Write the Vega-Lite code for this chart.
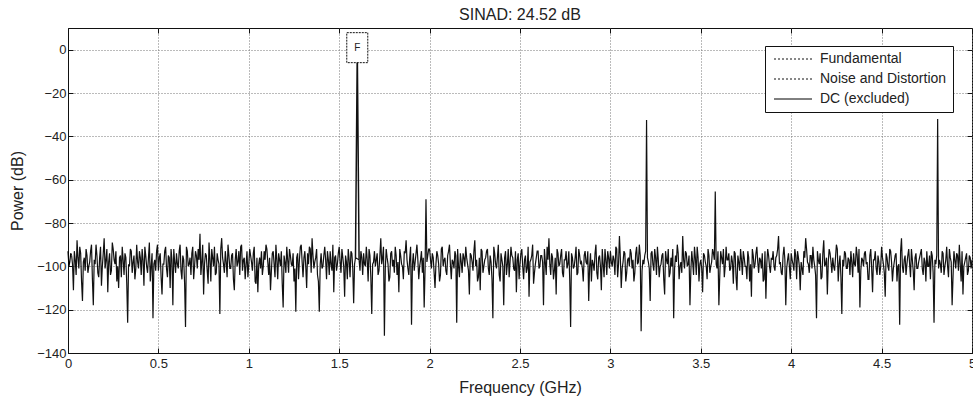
{
  "$schema": "https://vega.github.io/schema/vega-lite/v6.json",
  "width": 904,
  "height": 325,
  "autosize": {"type": "none"},
  "padding": {"left": 68, "top": 28, "right": 1, "bottom": 57},
  "background": "white",
  "title": {"text": "SINAD: 24.52 dB", "fontSize": 16, "fontWeight": "normal", "font": "Liberation Sans", "color": "#222", "offset": 5},
  "config": {
    "view": {"stroke": "#111", "strokeWidth": 1},
    "axis": {"labelFont": "Liberation Sans", "titleFont": "Liberation Sans", "labelFontSize": 13, "titleFontSize": 16, "titleFontWeight": "normal", "labelColor": "#222", "titleColor": "#222", "domainColor": "#111", "tickColor": "#111"}
  },
  "datasets": {
    "noise": [
      {"f":0.02,"p":-95},{"f":0.03,"p":-111},{"f":0.04,"p":-97},{"f":0.05,"p":-88},{"f":0.06,"p":-101},{"f":0.07,"p":-94},{"f":0.08,"p":-116},{"f":0.09,"p":-96},
      {"f":0.10,"p":-92},{"f":0.11,"p":-103},{"f":0.12,"p":-98},{"f":0.13,"p":-90},{"f":0.14,"p":-118},{"f":0.15,"p":-99},{"f":0.16,"p":-95},{"f":0.17,"p":-105},{"f":0.18,"p":-91},{"f":0.19,"p":-100},
      {"f":0.20,"p":-87},{"f":0.21,"p":-97},{"f":0.22,"p":-112},{"f":0.23,"p":-94},{"f":0.24,"p":-102},{"f":0.25,"p":-92},{"f":0.26,"p":-99},{"f":0.27,"p":-107},{"f":0.28,"p":-110},{"f":0.29,"p":-95},
      {"f":0.30,"p":-91},{"f":0.31,"p":-104},{"f":0.32,"p":-96},{"f":0.33,"p":-126},{"f":0.34,"p":-100},{"f":0.35,"p":-93},{"f":0.36,"p":-98},{"f":0.37,"p":-106},{"f":0.38,"p":-90},{"f":0.39,"p":-101},
      {"f":0.40,"p":-96},{"f":0.41,"p":-92},{"f":0.42,"p":-109},{"f":0.43,"p":-95},{"f":0.44,"p":-103},{"f":0.45,"p":-89},{"f":0.46,"p":-100},{"f":0.47,"p":-124},{"f":0.48,"p":-97},{"f":0.49,"p":-93},
      {"f":0.50,"p":-102},{"f":0.51,"p":-94},{"f":0.52,"p":-113},{"f":0.53,"p":-99},{"f":0.54,"p":-91},{"f":0.55,"p":-105},{"f":0.56,"p":-96},{"f":0.57,"p":-92},{"f":0.58,"p":-118},{"f":0.59,"p":-98},
      {"f":0.60,"p":-94},{"f":0.61,"p":-101},{"f":0.62,"p":-90},{"f":0.63,"p":-106},{"f":0.64,"p":-97},{"f":0.65,"p":-128},{"f":0.66,"p":-93},{"f":0.67,"p":-99},{"f":0.68,"p":-104},{"f":0.69,"p":-91},
      {"f":0.70,"p":-100},{"f":0.71,"p":-95},{"f":0.72,"p":-92},{"f":0.73,"p":-85},{"f":0.74,"p":-98},{"f":0.75,"p":-113},{"f":0.76,"p":-94},{"f":0.77,"p":-102},{"f":0.78,"p":-89},{"f":0.79,"p":-107},
      {"f":0.80,"p":-96},{"f":0.81,"p":-91},{"f":0.82,"p":-103},{"f":0.83,"p":-97},{"f":0.84,"p":-122},{"f":0.85,"p":-87},{"f":0.86,"p":-99},{"f":0.87,"p":-93},{"f":0.88,"p":-105},{"f":0.89,"p":-95},
      {"f":0.90,"p":-101},{"f":0.91,"p":-94},{"f":0.92,"p":-111},{"f":0.93,"p":-92},{"f":0.94,"p":-98},{"f":0.95,"p":-104},{"f":0.96,"p":-90},{"f":0.97,"p":-97},{"f":0.98,"p":-106},{"f":0.99,"p":-93},
      {"f":1.00,"p":-99},{"f":1.01,"p":-95},{"f":1.02,"p":-102},{"f":1.03,"p":-91},{"f":1.04,"p":-108},{"f":1.05,"p":-112},{"f":1.06,"p":-96},{"f":1.07,"p":-93},{"f":1.08,"p":-100},{"f":1.09,"p":-97},
      {"f":1.10,"p":-92},{"f":1.11,"p":-104},{"f":1.12,"p":-111},{"f":1.13,"p":-94},{"f":1.14,"p":-99},{"f":1.15,"p":-90},{"f":1.16,"p":-106},{"f":1.17,"p":-97},{"f":1.18,"p":-93},{"f":1.19,"p":-119},
      {"f":1.20,"p":-98},{"f":1.21,"p":-91},{"f":1.22,"p":-103},{"f":1.23,"p":-95},{"f":1.24,"p":-100},{"f":1.25,"p":-107},{"f":1.26,"p":-121},{"f":1.27,"p":-94},{"f":1.28,"p":-97},{"f":1.29,"p":-90},
      {"f":1.30,"p":-105},{"f":1.31,"p":-93},{"f":1.32,"p":-110},{"f":1.33,"p":-99},{"f":1.34,"p":-92},{"f":1.35,"p":-87},{"f":1.36,"p":-101},{"f":1.37,"p":-96},{"f":1.38,"p":-104},{"f":1.39,"p":-121},
      {"f":1.40,"p":-94},{"f":1.41,"p":-100},{"f":1.42,"p":-91},{"f":1.43,"p":-106},{"f":1.44,"p":-97},{"f":1.45,"p":-93},{"f":1.46,"p":-102},{"f":1.47,"p":-112},{"f":1.48,"p":-95},{"f":1.49,"p":-99},
      {"f":1.50,"p":-91},{"f":1.51,"p":-103},{"f":1.52,"p":-96},{"f":1.53,"p":-114},{"f":1.54,"p":-98},{"f":1.55,"p":-92},{"f":1.56,"p":-105},{"f":1.57,"p":-94},{"f":1.58,"p":-117},{"f":1.59,"p":-96},
      {"f":1.61,"p":-97},{"f":1.62,"p":-93},{"f":1.63,"p":-104},{"f":1.64,"p":-99},{"f":1.65,"p":-91},{"f":1.66,"p":-107},{"f":1.67,"p":-95},{"f":1.68,"p":-122},{"f":1.69,"p":-98},
      {"f":1.70,"p":-100},{"f":1.71,"p":-94},{"f":1.72,"p":-102},{"f":1.73,"p":-87},{"f":1.74,"p":-96},{"f":1.75,"p":-132},{"f":1.76,"p":-92},{"f":1.77,"p":-99},{"f":1.78,"p":-105},{"f":1.79,"p":-93},
      {"f":1.80,"p":-97},{"f":1.81,"p":-91},{"f":1.82,"p":-104},{"f":1.83,"p":-112},{"f":1.84,"p":-95},{"f":1.85,"p":-100},{"f":1.86,"p":-93},{"f":1.87,"p":-88},{"f":1.88,"p":-101},{"f":1.89,"p":-96},
      {"f":1.90,"p":-127},{"f":1.91,"p":-94},{"f":1.92,"p":-98},{"f":1.93,"p":-90},{"f":1.94,"p":-106},{"f":1.95,"p":-97},{"f":1.96,"p":-103},{"f":1.97,"p":-119},{"f":1.98,"p":-69},{"f":1.99,"p":-95},
      {"f":2.00,"p":-92},{"f":2.01,"p":-101},{"f":2.02,"p":-96},{"f":2.03,"p":-110},{"f":2.04,"p":-93},{"f":2.05,"p":-99},{"f":2.06,"p":-104},{"f":2.07,"p":-91},{"f":2.08,"p":-97},{"f":2.09,"p":-102},
      {"f":2.10,"p":-95},{"f":2.11,"p":-90},{"f":2.12,"p":-106},{"f":2.13,"p":-98},{"f":2.14,"p":-93},{"f":2.15,"p":-126},{"f":2.16,"p":-100},{"f":2.17,"p":-94},{"f":2.18,"p":-103},{"f":2.19,"p":-96},
      {"f":2.20,"p":-91},{"f":2.21,"p":-99},{"f":2.22,"p":-113},{"f":2.23,"p":-95},{"f":2.24,"p":-102},{"f":2.25,"p":-88},{"f":2.26,"p":-97},{"f":2.27,"p":-105},{"f":2.28,"p":-111},{"f":2.29,"p":-93},
      {"f":2.30,"p":-100},{"f":2.31,"p":-96},{"f":2.32,"p":-92},{"f":2.33,"p":-104},{"f":2.34,"p":-98},{"f":2.35,"p":-124},{"f":2.36,"p":-94},{"f":2.37,"p":-101},{"f":2.38,"p":-90},{"f":2.39,"p":-107},
      {"f":2.40,"p":-97},{"f":2.41,"p":-118},{"f":2.42,"p":-93},{"f":2.43,"p":-99},{"f":2.44,"p":-105},{"f":2.45,"p":-91},{"f":2.46,"p":-96},{"f":2.47,"p":-102},{"f":2.48,"p":-112},{"f":2.49,"p":-94},
      {"f":2.50,"p":-99},{"f":2.51,"p":-92},{"f":2.52,"p":-106},{"f":2.53,"p":-95},{"f":2.54,"p":-101},{"f":2.55,"p":-114},{"f":2.56,"p":-97},{"f":2.57,"p":-90},{"f":2.58,"p":-103},{"f":2.59,"p":-96},
      {"f":2.60,"p":-93},{"f":2.61,"p":-100},{"f":2.62,"p":-95},{"f":2.63,"p":-118},{"f":2.64,"p":-98},{"f":2.65,"p":-91},{"f":2.66,"p":-87},{"f":2.67,"p":-104},{"f":2.68,"p":-96},{"f":2.69,"p":-102},
      {"f":2.70,"p":-113},{"f":2.71,"p":-94},{"f":2.72,"p":-99},{"f":2.73,"p":-92},{"f":2.74,"p":-105},{"f":2.75,"p":-97},{"f":2.76,"p":-101},{"f":2.77,"p":-93},{"f":2.78,"p":-128},{"f":2.79,"p":-96},
      {"f":2.80,"p":-100},{"f":2.81,"p":-91},{"f":2.82,"p":-103},{"f":2.83,"p":-95},{"f":2.84,"p":-98},{"f":2.85,"p":-107},{"f":2.86,"p":-93},{"f":2.87,"p":-99},{"f":2.88,"p":-116},{"f":2.89,"p":-94},
      {"f":2.90,"p":-97},{"f":2.91,"p":-102},{"f":2.92,"p":-90},{"f":2.93,"p":-106},{"f":2.94,"p":-95},{"f":2.95,"p":-111},{"f":2.96,"p":-99},{"f":2.97,"p":-92},{"f":2.98,"p":-104},{"f":2.99,"p":-96},
      {"f":3.00,"p":-93},{"f":3.01,"p":-100},{"f":3.02,"p":-97},{"f":3.03,"p":-91},{"f":3.04,"p":-105},{"f":3.05,"p":-86},{"f":3.06,"p":-110},{"f":3.07,"p":-98},{"f":3.08,"p":-94},{"f":3.09,"p":-103},
      {"f":3.10,"p":-96},{"f":3.11,"p":-92},{"f":3.12,"p":-101},{"f":3.13,"p":-107},{"f":3.14,"p":-94},{"f":3.15,"p":-99},{"f":3.16,"p":-90},{"f":3.17,"p":-130},{"f":3.18,"p":-97},{"f":3.19,"p":-95},
      {"f":3.20,"p":-32.5},{"f":3.21,"p":-98},{"f":3.22,"p":-116},{"f":3.23,"p":-93},{"f":3.24,"p":-102},{"f":3.25,"p":-96},{"f":3.26,"p":-91},{"f":3.27,"p":-105},{"f":3.28,"p":-99},{"f":3.29,"p":-94},
      {"f":3.30,"p":-113},{"f":3.31,"p":-97},{"f":3.32,"p":-92},{"f":3.33,"p":-103},{"f":3.34,"p":-100},{"f":3.35,"p":-124},{"f":3.36,"p":-95},{"f":3.37,"p":-90},{"f":3.38,"p":-106},{"f":3.39,"p":-98},
      {"f":3.40,"p":-86},{"f":3.41,"p":-101},{"f":3.42,"p":-94},{"f":3.43,"p":-99},{"f":3.44,"p":-118},{"f":3.45,"p":-93},{"f":3.46,"p":-104},{"f":3.47,"p":-96},{"f":3.48,"p":-91},{"f":3.49,"p":-107},
      {"f":3.50,"p":-97},{"f":3.51,"p":-112},{"f":3.52,"p":-95},{"f":3.53,"p":-100},{"f":3.54,"p":-92},{"f":3.55,"p":-103},{"f":3.56,"p":-98},{"f":3.57,"p":-94},{"f":3.58,"p":-65.5},{"f":3.59,"p":-101},
      {"f":3.60,"p":-118},{"f":3.61,"p":-93},{"f":3.62,"p":-99},{"f":3.63,"p":-105},{"f":3.64,"p":-91},{"f":3.65,"p":-97},{"f":3.66,"p":-102},{"f":3.67,"p":-95},{"f":3.68,"p":-108},{"f":3.69,"p":-94},
      {"f":3.70,"p":-111},{"f":3.71,"p":-98},{"f":3.72,"p":-92},{"f":3.73,"p":-104},{"f":3.74,"p":-96},{"f":3.75,"p":-100},{"f":3.76,"p":-93},{"f":3.77,"p":-107},{"f":3.78,"p":-114},{"f":3.79,"p":-95},
      {"f":3.80,"p":-99},{"f":3.81,"p":-91},{"f":3.82,"p":-103},{"f":3.83,"p":-97},{"f":3.84,"p":-94},{"f":3.85,"p":-106},{"f":3.86,"p":-115},{"f":3.87,"p":-92},{"f":3.88,"p":-100},{"f":3.89,"p":-96},
      {"f":3.90,"p":-93},{"f":3.91,"p":-102},{"f":3.92,"p":-95},{"f":3.93,"p":-86},{"f":3.94,"p":-98},{"f":3.95,"p":-104},{"f":3.96,"p":-91},{"f":3.97,"p":-118},{"f":3.98,"p":-97},{"f":3.99,"p":-100},
      {"f":4.00,"p":-94},{"f":4.01,"p":-99},{"f":4.02,"p":-92},{"f":4.03,"p":-106},{"f":4.04,"p":-96},{"f":4.05,"p":-111},{"f":4.06,"p":-101},{"f":4.07,"p":-93},{"f":4.08,"p":-87},{"f":4.09,"p":-98},
      {"f":4.10,"p":-103},{"f":4.11,"p":-95},{"f":4.12,"p":-91},{"f":4.13,"p":-100},{"f":4.14,"p":-124},{"f":4.15,"p":-97},{"f":4.16,"p":-94},{"f":4.17,"p":-105},{"f":4.18,"p":-88},{"f":4.19,"p":-99},
      {"f":4.20,"p":-113},{"f":4.21,"p":-92},{"f":4.22,"p":-98},{"f":4.23,"p":-96},{"f":4.24,"p":-102},{"f":4.25,"p":-90},{"f":4.26,"p":-107},{"f":4.27,"p":-95},{"f":4.28,"p":-122},{"f":4.29,"p":-100},
      {"f":4.30,"p":-94},{"f":4.31,"p":-101},{"f":4.32,"p":-97},{"f":4.33,"p":-93},{"f":4.34,"p":-105},{"f":4.35,"p":-99},{"f":4.36,"p":-91},{"f":4.37,"p":-103},{"f":4.38,"p":-119},{"f":4.39,"p":-96},
      {"f":4.40,"p":-100},{"f":4.41,"p":-93},{"f":4.42,"p":-98},{"f":4.43,"p":-106},{"f":4.44,"p":-92},{"f":4.45,"p":-112},{"f":4.46,"p":-97},{"f":4.47,"p":-101},{"f":4.48,"p":-95},{"f":4.49,"p":-104},
      {"f":4.50,"p":-91},{"f":4.51,"p":-99},{"f":4.52,"p":-114},{"f":4.53,"p":-96},{"f":4.54,"p":-102},{"f":4.55,"p":-93},{"f":4.56,"p":-107},{"f":4.57,"p":-98},{"f":4.58,"p":-94},{"f":4.59,"p":-100},
      {"f":4.60,"p":-127},{"f":4.61,"p":-87},{"f":4.62,"p":-103},{"f":4.63,"p":-95},{"f":4.64,"p":-99},{"f":4.65,"p":-92},{"f":4.66,"p":-105},{"f":4.67,"p":-97},{"f":4.68,"p":-111},{"f":4.69,"p":-94},
      {"f":4.70,"p":-101},{"f":4.71,"p":-96},{"f":4.72,"p":-92},{"f":4.73,"p":-104},{"f":4.74,"p":-98},{"f":4.75,"p":-93},{"f":4.76,"p":-100},{"f":4.77,"p":-106},{"f":4.78,"p":-95},{"f":4.79,"p":-126},
      {"f":4.80,"p":-99},{"f":4.81,"p":-32},{"f":4.82,"p":-97},{"f":4.83,"p":-103},{"f":4.84,"p":-94},{"f":4.85,"p":-100},{"f":4.86,"p":-91},{"f":4.87,"p":-105},{"f":4.88,"p":-96},{"f":4.89,"p":-118},
      {"f":4.90,"p":-93},{"f":4.91,"p":-101},{"f":4.92,"p":-95},{"f":4.93,"p":-90},{"f":4.94,"p":-107},{"f":4.95,"p":-113},{"f":4.96,"p":-98},{"f":4.97,"p":-94},{"f":4.98,"p":-102},{"f":4.99,"p":-96},
      {"f":5.00,"p":-97},
      {"f":0.025,"p":-99},{"f":0.035,"p":-93},{"f":0.045,"p":-104},{"f":0.055,"p":-96},{"f":0.065,"p":-91},{"f":0.075,"p":-107},{"f":0.085,"p":-98},{"f":0.095,"p":-102},
      {"f":0.105,"p":-95},{"f":0.115,"p":-100},{"f":0.125,"p":-93},{"f":0.135,"p":-106},{"f":0.145,"p":-97},{"f":0.155,"p":-90},{"f":0.165,"p":-103},{"f":0.175,"p":-96},{"f":0.185,"p":-109},{"f":0.195,"p":-94},
      {"f":0.205,"p":-101},{"f":0.215,"p":-92},{"f":0.225,"p":-98},{"f":0.235,"p":-104},{"f":0.245,"p":-89},{"f":0.255,"p":-97},{"f":0.265,"p":-93},{"f":0.275,"p":-100},{"f":0.285,"p":-96},{"f":0.295,"p":-105},
      {"f":0.305,"p":-97},{"f":0.315,"p":-94},{"f":0.325,"p":-108},{"f":0.335,"p":-99},{"f":0.345,"p":-92},{"f":0.355,"p":-103},{"f":0.365,"p":-95},{"f":0.375,"p":-101},{"f":0.385,"p":-98},{"f":0.395,"p":-93},
      {"f":0.405,"p":-104},{"f":0.415,"p":-97},{"f":0.425,"p":-91},{"f":0.435,"p":-100},{"f":0.445,"p":-96},{"f":0.455,"p":-107},{"f":0.465,"p":-94},{"f":0.475,"p":-99},{"f":0.485,"p":-102},{"f":0.495,"p":-90},
      {"f":0.505,"p":-96},{"f":0.515,"p":-105},{"f":0.525,"p":-99},{"f":0.535,"p":-93},{"f":0.545,"p":-101},{"f":0.555,"p":-95},{"f":0.565,"p":-110},{"f":0.575,"p":-97},{"f":0.585,"p":-92},{"f":0.595,"p":-103},
      {"f":0.605,"p":-99},{"f":0.615,"p":-93},{"f":0.625,"p":-102},{"f":0.635,"p":-95},{"f":0.645,"p":-108},{"f":0.655,"p":-91},{"f":0.665,"p":-100},{"f":0.675,"p":-96},{"f":0.685,"p":-94},{"f":0.695,"p":-106},
      {"f":0.705,"p":-93},{"f":0.715,"p":-101},{"f":0.725,"p":-97},{"f":0.735,"p":-104},{"f":0.745,"p":-90},{"f":0.755,"p":-99},{"f":0.765,"p":-95},{"f":0.775,"p":-108},{"f":0.785,"p":-97},{"f":0.795,"p":-92},
      {"f":0.805,"p":-100},{"f":0.815,"p":-104},{"f":0.825,"p":-94},{"f":0.835,"p":-99},{"f":0.845,"p":-92},{"f":0.855,"p":-96},{"f":0.865,"p":-103},{"f":0.875,"p":-98},{"f":0.885,"p":-90},{"f":0.895,"p":-101},
      {"f":0.905,"p":-95},{"f":0.915,"p":-106},{"f":0.925,"p":-97},{"f":0.935,"p":-100},{"f":0.945,"p":-93},{"f":0.955,"p":-91},{"f":0.965,"p":-102},{"f":0.975,"p":-96},{"f":0.985,"p":-99},{"f":0.995,"p":-105},
      {"f":1.005,"p":-92},{"f":1.015,"p":-98},{"f":1.025,"p":-94},{"f":1.035,"p":-107},{"f":1.045,"p":-96},{"f":1.055,"p":-99},{"f":1.065,"p":-101},{"f":1.075,"p":-104},{"f":1.085,"p":-93},{"f":1.095,"p":-90},
      {"f":1.105,"p":-98},{"f":1.115,"p":-96},{"f":1.125,"p":-102},{"f":1.135,"p":-93},{"f":1.145,"p":-105},{"f":1.155,"p":-97},{"f":1.165,"p":-94},{"f":1.175,"p":-100},{"f":1.185,"p":-108},{"f":1.195,"p":-95},
      {"f":1.205,"p":-103},{"f":1.215,"p":-97},{"f":1.225,"p":-92},{"f":1.235,"p":-99},{"f":1.245,"p":-94},{"f":1.255,"p":-101},{"f":1.265,"p":-96},{"f":1.275,"p":-106},{"f":1.285,"p":-91},{"f":1.295,"p":-98},
      {"f":1.305,"p":-96},{"f":1.315,"p":-100},{"f":1.325,"p":-94},{"f":1.335,"p":-91},{"f":1.345,"p":-103},{"f":1.355,"p":-95},{"f":1.365,"p":-98},{"f":1.375,"p":-92},{"f":1.385,"p":-107},{"f":1.395,"p":-99},
      {"f":1.405,"p":-101},{"f":1.415,"p":-95},{"f":1.425,"p":-97},{"f":1.435,"p":-93},{"f":1.445,"p":-104},{"f":1.455,"p":-99},{"f":1.465,"p":-90},{"f":1.475,"p":-96},{"f":1.485,"p":-102},{"f":1.495,"p":-94},
      {"f":1.505,"p":-98},{"f":1.515,"p":-92},{"f":1.525,"p":-100},{"f":1.535,"p":-95},{"f":1.545,"p":-106},{"f":1.555,"p":-97},{"f":1.565,"p":-93},{"f":1.575,"p":-101},{"f":1.585,"p":-99},
      {"f":1.615,"p":-102},{"f":1.625,"p":-96},{"f":1.635,"p":-94},{"f":1.645,"p":-100},{"f":1.655,"p":-97},{"f":1.665,"p":-92},{"f":1.675,"p":-105},{"f":1.685,"p":-99},{"f":1.695,"p":-93},
      {"f":1.705,"p":-97},{"f":1.715,"p":-104},{"f":1.725,"p":-95},{"f":1.735,"p":-99},{"f":1.745,"p":-91},{"f":1.755,"p":-101},{"f":1.765,"p":-96},{"f":1.775,"p":-107},{"f":1.785,"p":-94},{"f":1.795,"p":-100},
      {"f":1.805,"p":-103},{"f":1.815,"p":-95},{"f":1.825,"p":-98},{"f":1.835,"p":-92},{"f":1.845,"p":-99},{"f":1.855,"p":-106},{"f":1.865,"p":-94},{"f":1.875,"p":-97},{"f":1.885,"p":-104},{"f":1.895,"p":-91},
      {"f":1.905,"p":-99},{"f":1.915,"p":-102},{"f":1.925,"p":-94},{"f":1.935,"p":-97},{"f":1.945,"p":-100},{"f":1.955,"p":-93},{"f":1.965,"p":-96},{"f":1.975,"p":-101},{"f":1.985,"p":-98},{"f":1.995,"p":-92},
      {"f":2.005,"p":-97},{"f":2.015,"p":-94},{"f":2.025,"p":-103},{"f":2.035,"p":-99},{"f":2.045,"p":-95},{"f":2.055,"p":-107},{"f":2.065,"p":-92},{"f":2.075,"p":-100},{"f":2.085,"p":-96},{"f":2.095,"p":-104},
      {"f":2.105,"p":-93},{"f":2.115,"p":-99},{"f":2.125,"p":-97},{"f":2.135,"p":-101},{"f":2.145,"p":-95},{"f":2.155,"p":-92},{"f":2.165,"p":-105},{"f":2.175,"p":-98},{"f":2.185,"p":-94},{"f":2.195,"p":-100},
      {"f":2.205,"p":-96},{"f":2.215,"p":-102},{"f":2.225,"p":-94},{"f":2.235,"p":-98},{"f":2.245,"p":-93},{"f":2.255,"p":-100},{"f":2.265,"p":-107},{"f":2.275,"p":-96},{"f":2.285,"p":-92},{"f":2.295,"p":-103},
      {"f":2.305,"p":-97},{"f":2.315,"p":-93},{"f":2.325,"p":-101},{"f":2.335,"p":-95},{"f":2.345,"p":-106},{"f":2.355,"p":-91},{"f":2.365,"p":-99},{"f":2.375,"p":-96},{"f":2.385,"p":-104},{"f":2.395,"p":-94},
      {"f":2.405,"p":-100},{"f":2.415,"p":-96},{"f":2.425,"p":-104},{"f":2.435,"p":-92},{"f":2.445,"p":-98},{"f":2.455,"p":-95},{"f":2.465,"p":-101},{"f":2.475,"p":-93},{"f":2.485,"p":-97},{"f":2.495,"p":-106},
      {"f":2.505,"p":-94},{"f":2.515,"p":-100},{"f":2.525,"p":-97},{"f":2.535,"p":-103},{"f":2.545,"p":-91},{"f":2.555,"p":-98},{"f":2.565,"p":-95},{"f":2.575,"p":-108},{"f":2.585,"p":-99},{"f":2.595,"p":-93},
      {"f":2.605,"p":-101},{"f":2.615,"p":-95},{"f":2.625,"p":-98},{"f":2.635,"p":-92},{"f":2.645,"p":-104},{"f":2.655,"p":-97},{"f":2.665,"p":-99},{"f":2.675,"p":-94},{"f":2.685,"p":-106},{"f":2.695,"p":-96},
      {"f":2.705,"p":-92},{"f":2.715,"p":-100},{"f":2.725,"p":-95},{"f":2.735,"p":-103},{"f":2.745,"p":-97},{"f":2.755,"p":-93},{"f":2.765,"p":-99},{"f":2.775,"p":-106},{"f":2.785,"p":-94},{"f":2.795,"p":-101},
      {"f":2.805,"p":-96},{"f":2.815,"p":-104},{"f":2.825,"p":-92},{"f":2.835,"p":-99},{"f":2.845,"p":-101},{"f":2.855,"p":-95},{"f":2.865,"p":-98},{"f":2.875,"p":-93},{"f":2.885,"p":-100},{"f":2.895,"p":-107},
      {"f":2.905,"p":-99},{"f":2.915,"p":-94},{"f":2.925,"p":-103},{"f":2.935,"p":-96},{"f":2.945,"p":-100},{"f":2.955,"p":-92},{"f":2.965,"p":-105},{"f":2.975,"p":-97},{"f":2.985,"p":-93},{"f":2.995,"p":-101},
      {"f":3.005,"p":-98},{"f":3.015,"p":-95},{"f":3.025,"p":-104},{"f":3.035,"p":-92},{"f":3.045,"p":-99},{"f":3.055,"p":-96},{"f":3.065,"p":-101},{"f":3.075,"p":-93},{"f":3.085,"p":-107},{"f":3.095,"p":-97},
      {"f":3.105,"p":-100},{"f":3.115,"p":-94},{"f":3.125,"p":-97},{"f":3.135,"p":-103},{"f":3.145,"p":-91},{"f":3.155,"p":-98},{"f":3.165,"p":-95},{"f":3.175,"p":-102},{"f":3.185,"p":-99},{"f":3.195,"p":-93},
      {"f":3.205,"p":-96},{"f":3.215,"p":-101},{"f":3.225,"p":-94},{"f":3.235,"p":-99},{"f":3.245,"p":-92},{"f":3.255,"p":-104},{"f":3.265,"p":-97},{"f":3.275,"p":-100},{"f":3.285,"p":-95},{"f":3.295,"p":-106},
      {"f":3.305,"p":-93},{"f":3.315,"p":-99},{"f":3.325,"p":-105},{"f":3.335,"p":-96},{"f":3.345,"p":-92},{"f":3.355,"p":-101},{"f":3.365,"p":-98},{"f":3.375,"p":-94},{"f":3.385,"p":-100},{"f":3.395,"p":-103},
      {"f":3.405,"p":-97},{"f":3.415,"p":-93},{"f":3.425,"p":-100},{"f":3.435,"p":-95},{"f":3.445,"p":-102},{"f":3.455,"p":-98},{"f":3.465,"p":-91},{"f":3.475,"p":-104},{"f":3.485,"p":-96},{"f":3.495,"p":-99},
      {"f":3.505,"p":-101},{"f":3.515,"p":-94},{"f":3.525,"p":-98},{"f":3.535,"p":-106},{"f":3.545,"p":-95},{"f":3.555,"p":-100},{"f":3.565,"p":-92},{"f":3.575,"p":-97},{"f":3.585,"p":-99},{"f":3.595,"p":-93},
      {"f":3.605,"p":-104},{"f":3.615,"p":-96},{"f":3.625,"p":-92},{"f":3.635,"p":-100},{"f":3.645,"p":-97},{"f":3.655,"p":-94},{"f":3.665,"p":-101},{"f":3.675,"p":-98},{"f":3.685,"p":-93},{"f":3.695,"p":-105},
      {"f":3.705,"p":-95},{"f":3.715,"p":-102},{"f":3.725,"p":-97},{"f":3.735,"p":-93},{"f":3.745,"p":-100},{"f":3.755,"p":-106},{"f":3.765,"p":-96},{"f":3.775,"p":-99},{"f":3.785,"p":-92},{"f":3.795,"p":-101},
      {"f":3.805,"p":-94},{"f":3.815,"p":-98},{"f":3.825,"p":-96},{"f":3.835,"p":-101},{"f":3.845,"p":-107},{"f":3.855,"p":-93},{"f":3.865,"p":-99},{"f":3.875,"p":-95},{"f":3.885,"p":-103},{"f":3.895,"p":-97},
      {"f":3.905,"p":-100},{"f":3.915,"p":-96},{"f":3.925,"p":-92},{"f":3.935,"p":-99},{"f":3.945,"p":-103},{"f":3.955,"p":-95},{"f":3.965,"p":-97},{"f":3.975,"p":-101},{"f":3.985,"p":-94},{"f":3.995,"p":-106},
      {"f":4.005,"p":-97},{"f":4.015,"p":-102},{"f":4.025,"p":-95},{"f":4.035,"p":-93},{"f":4.045,"p":-100},{"f":4.055,"p":-98},{"f":4.065,"p":-104},{"f":4.075,"p":-96},{"f":4.085,"p":-92},{"f":4.095,"p":-99},
      {"f":4.105,"p":-95},{"f":4.115,"p":-101},{"f":4.125,"p":-97},{"f":4.135,"p":-104},{"f":4.145,"p":-93},{"f":4.155,"p":-99},{"f":4.165,"p":-106},{"f":4.175,"p":-94},{"f":4.185,"p":-100},{"f":4.195,"p":-96},
      {"f":4.205,"p":-98},{"f":4.215,"p":-94},{"f":4.225,"p":-103},{"f":4.235,"p":-100},{"f":4.245,"p":-96},{"f":4.255,"p":-92},{"f":4.265,"p":-99},{"f":4.275,"p":-105},{"f":4.285,"p":-97},{"f":4.295,"p":-93},
      {"f":4.305,"p":-101},{"f":4.315,"p":-96},{"f":4.325,"p":-104},{"f":4.335,"p":-98},{"f":4.345,"p":-94},{"f":4.355,"p":-100},{"f":4.365,"p":-95},{"f":4.375,"p":-92},{"f":4.385,"p":-102},{"f":4.395,"p":-97},
      {"f":4.405,"p":-94},{"f":4.415,"p":-99},{"f":4.425,"p":-106},{"f":4.435,"p":-95},{"f":4.445,"p":-101},{"f":4.455,"p":-97},{"f":4.465,"p":-93},{"f":4.475,"p":-104},{"f":4.485,"p":-98},{"f":4.495,"p":-100},
      {"f":4.505,"p":-96},{"f":4.515,"p":-103},{"f":4.525,"p":-94},{"f":4.535,"p":-100},{"f":4.545,"p":-92},{"f":4.555,"p":-98},{"f":4.565,"p":-101},{"f":4.575,"p":-95},{"f":4.585,"p":-107},{"f":4.595,"p":-99},
      {"f":4.605,"p":-93},{"f":4.615,"p":-100},{"f":4.625,"p":-97},{"f":4.635,"p":-104},{"f":4.645,"p":-95},{"f":4.655,"p":-99},{"f":4.665,"p":-92},{"f":4.675,"p":-102},{"f":4.685,"p":-96},{"f":4.695,"p":-101},
      {"f":4.705,"p":-98},{"f":4.715,"p":-94},{"f":4.725,"p":-101},{"f":4.735,"p":-96},{"f":4.745,"p":-107},{"f":4.755,"p":-100},{"f":4.765,"p":-95},{"f":4.775,"p":-93},{"f":4.785,"p":-103},{"f":4.795,"p":-97},
      {"f":4.805,"p":-95},{"f":4.815,"p":-101},{"f":4.825,"p":-99},{"f":4.835,"p":-93},{"f":4.845,"p":-104},{"f":4.855,"p":-97},{"f":4.865,"p":-100},{"f":4.875,"p":-92},{"f":4.885,"p":-98},{"f":4.895,"p":-105},
      {"f":4.905,"p":-97},{"f":4.915,"p":-94},{"f":4.925,"p":-102},{"f":4.935,"p":-99},{"f":4.945,"p":-93},{"f":4.955,"p":-100},{"f":4.965,"p":-96},{"f":4.975,"p":-104},{"f":4.985,"p":-95},{"f":4.995,"p":-101}
    ],
    "fund": [{"f":1.59,"p":-96},{"f":1.60,"p":0},{"f":1.61,"p":-97}],
    "dc": [{"f":0.00,"p":-93},{"f":0.005,"p":-100},{"f":0.01,"p":-98},{"f":0.015,"p":-94},{"f":0.02,"p":-95}],
    "marker": [{"f":1.6,"p":0,"label":"F"}]
  },
  "layer": [
    {
      "data": {"name": "noise"},
      "mark": {"type": "line", "strokeWidth": 1.2, "clip": true},
      "encoding": {
        "x": {"field": "f", "type": "quantitative", "scale": {"domain": [0, 5], "nice": false, "zero": false},
              "axis": {"title": "Frequency (GHz)", "values": [0,0.5,1,1.5,2,2.5,3,3.5,4,4.5,5], "format": "~g", "grid": true, "gridDash": [1,2], "gridColor": "#777", "tickSize": -5, "labelPadding": 9, "titlePadding": 9, "labelFlush": false}},
        "y": {"field": "p", "type": "quantitative", "scale": {"domain": [-140, 10], "nice": false, "zero": false},
              "axis": {"title": "Power (dB)", "values": [-140,-120,-100,-80,-60,-40,-20,0], "grid": true, "gridDash": [1,2], "gridColor": "#777", "tickSize": -5, "labelPadding": 7, "titlePadding": 11, "labelFlush": false}},
        "color": {"datum": "Noise and Distortion", "type": "nominal",
                  "scale": {"domain": ["Fundamental", "Noise and Distortion", "DC (excluded)"], "range": ["#111111", "#111111", "#000000"]},
                  "legend": {"title": null, "orient": "none", "legendX": 697, "legendY": 18, "strokeColor": "#111", "fillColor": "white", "padding": 6,
                             "symbolType": "M-1,0H8.5", "symbolSize": 64, "symbolStrokeWidth": 1, "labelFont": "Liberation Sans", "labelFontSize": 14, "labelColor": "#222", "labelOffset": 35, "rowPadding": 6,
                             "encode": {"symbols": {"update": {"strokeDash": {"signal": "datum.value == 'DC (excluded)' ? [1,0] : [2,2]"}}}}}}
      }
    },
    {
      "data": {"name": "fund"},
      "mark": {"type": "line", "strokeWidth": 1.5},
      "encoding": {
        "x": {"field": "f", "type": "quantitative", "axis": null},
        "y": {"field": "p", "type": "quantitative", "axis": null},
        "color": {"datum": "Fundamental", "type": "nominal"}
      }
    },
    {
      "data": {"name": "dc"},
      "mark": {"type": "line", "strokeWidth": 1.2},
      "encoding": {
        "x": {"field": "f", "type": "quantitative", "axis": null},
        "y": {"field": "p", "type": "quantitative", "axis": null},
        "color": {"datum": "DC (excluded)", "type": "nominal"}
      }
    },
    {
      "data": {"name": "marker"},
      "mark": {"type": "point", "shape": "M-0.7,-1H0.7V1H-0.7Z", "size": 900, "filled": false, "fill": "white", "fillOpacity": 1, "stroke": "#111", "strokeWidth": 1, "strokeDash": [2,1], "opacity": 1, "yOffset": -2},
      "encoding": {
        "x": {"field": "f", "type": "quantitative", "axis": {"orient": "top", "values": [0,0.5,1,1.5,2,2.5,3,3.5,4,4.5,5], "labels": false, "grid": false, "domain": false, "tickSize": -5, "title": null}},
        "y": {"field": "p", "type": "quantitative", "axis": {"orient": "right", "values": [-140,-120,-100,-80,-60,-40,-20,0], "labels": false, "grid": false, "domain": false, "tickSize": -5, "title": null}}
      }
    },
    {
      "data": {"name": "marker"},
      "mark": {"type": "text", "font": "Liberation Sans", "fontSize": 10, "color": "#222", "baseline": "middle", "align": "center", "yOffset": -2},
      "encoding": {
        "x": {"field": "f", "type": "quantitative", "axis": null},
        "y": {"field": "p", "type": "quantitative", "axis": null},
        "text": {"field": "label"}
      }
    }
  ],
  "resolve": {"axis": {"x": "independent", "y": "independent"}}
}
